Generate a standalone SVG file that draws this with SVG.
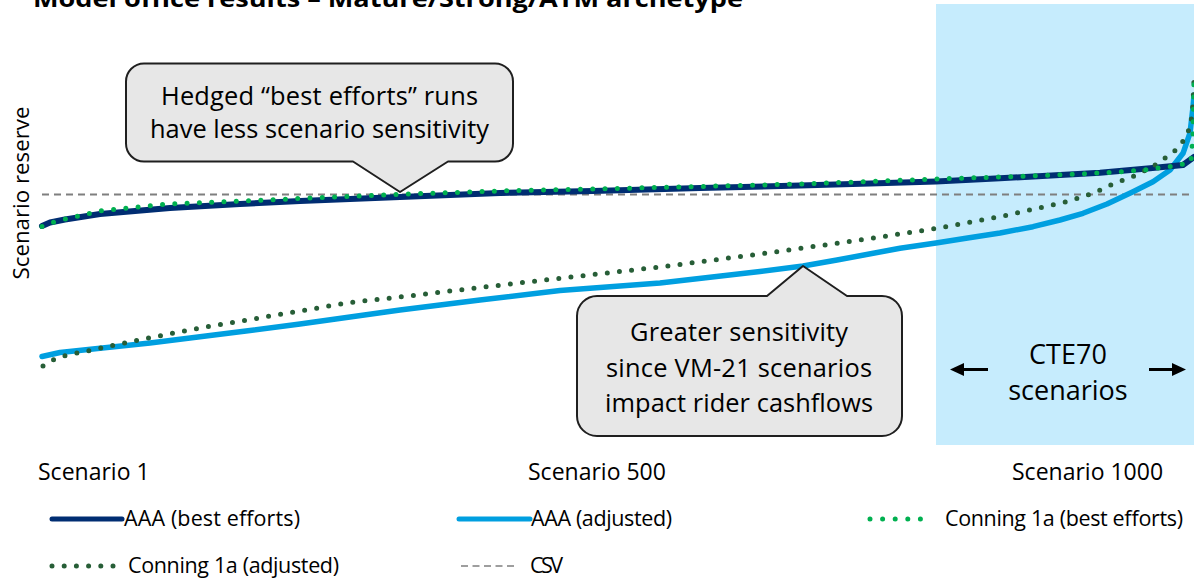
<svg xmlns="http://www.w3.org/2000/svg" width="1194" height="583" viewBox="0 0 1194 583">
<style>
.t{font-family:"Open Sans","Liberation Sans",sans-serif;fill:#000}
.call{fill:#E7E7E7;stroke:#1F1F1F;stroke-width:2;stroke-linejoin:round}
.ct{font-size:25.4px;text-anchor:middle}
.ax{font-size:23px}
.lg{font-size:21.5px}
.navy{fill:none;stroke:#002D72;stroke-width:6;stroke-linejoin:round;stroke-linecap:round}
.lblue{fill:none;stroke:#009FE0;stroke-width:5.5;stroke-linejoin:round;stroke-linecap:round}
.gdot{fill:none;stroke:#00B050;stroke-width:5;stroke-linecap:round;stroke-dasharray:0 12.3}
.ddot{fill:none;stroke:#275E37;stroke-width:5;stroke-linecap:round;stroke-dasharray:0 12.2}
.csv{fill:none;stroke:#7F7F7F;stroke-width:2;stroke-dasharray:7 5}
</style>
<rect width="1194" height="583" fill="#FFFFFF"/>
<rect id="cte-region" x="936" y="4" width="258" height="441" fill="#C6ECFD"/>

<g id="title">
<text class="t" x="33" y="6.5" font-size="24" font-weight="bold" textLength="710" lengthAdjust="spacingAndGlyphs">Model office results – Mature/Strong/ATM archetype</text>
</g>

<g id="y-axis-label">
<text class="t" font-size="22.3" text-anchor="middle" transform="translate(29,193) rotate(-90)">Scenario reserve</text>
</g>

<g id="connectors">
<line class="csv" x1="42" y1="194.5" x2="1194" y2="194.5"/>
<polyline class="lblue" points="42,356.5 60,352.5 100,348.3 150,343 200,336.7 250,330.5 300,324 350,317 400,310 480,300 560,290.5 660,283 760,271.5 803,266 837,260 900,248.3 936,243 966,238.3 1000,233 1033,226.7 1060,220 1083,213.3 1107,204 1133,191.7 1153,181.7 1170,170 1183,153.3 1190,133 1193,107 1194,95"/>
<polyline class="navy" points="42,226 50,222.5 65,219.5 100,214 170,208 240,204 300,201 400,197 500,193 593,191 700,188 800,185.5 870,183.5 936,181.5 1000,178.3 1100,172.7 1150,168.3 1183,165 1194,157"/>
<polyline class="ddot" points="43,366 55,359 66,355.3 90,350.5 113,345.3 150,337.7 200,328 250,319.5 300,311 350,302.5 400,297 480,287.5 560,278.3 660,267 760,254 860,240 936,228.5 1000,216.7 1067,201.7 1093,193.3 1113,184 1137,175 1158,163.3 1178,148.3 1185,138.3 1190,127.3 1192,115 1193,103 1194,80"/>
<polyline class="gdot" points="42,226.5 57,221 100,211 167,204 230,201.5 300,198.5 400,194.3 500,191 593,189 700,186.5 800,184 870,181.5 936,179 1010,176.7 1107,172.7 1143,170 1168,166.7 1180,165 1191,161.7 1193,135 1194,78"/>
</g>

<g id="callout-hedged">
<path class="call" d="M144,63.5 H495 A18,18 0 0 1 513,81.5 V143.5 A18,18 0 0 1 495,161.5 H448 L400,192 L353,161.5 H144 A18,18 0 0 1 126,143.5 V81.5 A18,18 0 0 1 144,63.5 Z"/>
<text class="t ct" x="319.5" y="105" textLength="317">Hedged “best efforts” runs</text>
<text class="t ct" x="319.5" y="138.3" textLength="339">have less scenario sensitivity</text>
</g>

<g id="callout-greater">
<path class="call" d="M597,296 H767 L803,266 L847,296 H882 A20,20 0 0 1 902,316 V416 A20,20 0 0 1 882,436 H597 A20,20 0 0 1 577,416 V316 A20,20 0 0 1 597,296 Z"/>
<text class="t ct" x="739" y="341" textLength="218">Greater sensitivity</text>
<text class="t ct" x="739" y="376.7" textLength="266">since VM-21 scenarios</text>
<text class="t ct" x="739" y="411.7" textLength="268">impact rider cashflows</text>
</g>

<g id="cte70-label">
<text class="t" x="1068" y="363.5" font-size="27" text-anchor="middle">CTE70</text>
<text class="t" x="1068" y="400" font-size="27" text-anchor="middle">scenarios</text>
<line x1="988" y1="369.5" x2="962" y2="369.5" stroke="#000" stroke-width="3"/>
<polygon points="950,369.5 964,363 964,376" fill="#000"/>
<line x1="1149" y1="369.5" x2="1174" y2="369.5" stroke="#000" stroke-width="3"/>
<polygon points="1186,369.5 1172,363 1172,376" fill="#000"/>
</g>

<g id="x-axis-labels">
<text class="t ax" x="38" y="479.5">Scenario 1</text>
<text class="t ax" x="528" y="479.5">Scenario 500</text>
<text class="t ax" x="1012" y="479.5">Scenario 1000</text>
</g>

<g id="legend">
<g id="legend-aaa-best">
<line x1="52" y1="519" x2="122" y2="519" stroke="#002D72" stroke-width="5" stroke-linecap="round"/>
<text class="t lg" x="124" y="526" textLength="176">AAA (best efforts)</text>
</g>
<g id="legend-aaa-adj">
<line x1="459" y1="519" x2="530" y2="519" stroke="#009FE0" stroke-width="5" stroke-linecap="round"/>
<text class="t lg" x="531" y="526" textLength="141">AAA (adjusted)</text>
</g>
<g id="legend-conning-best">
<line x1="870" y1="519" x2="933" y2="519" stroke="#00B050" stroke-width="5" stroke-linecap="round" stroke-dasharray="0 12.6"/>
<text class="t lg" x="945" y="526" textLength="238">Conning 1a (best efforts)</text>
</g>
<g id="legend-conning-adj">
<line x1="52" y1="566" x2="113" y2="566" stroke="#275E37" stroke-width="5" stroke-linecap="round" stroke-dasharray="0 12.2"/>
<text class="t lg" x="128" y="573" textLength="211">Conning 1a (adjusted)</text>
</g>
<g id="legend-csv">
<line x1="461" y1="566" x2="514" y2="566" stroke="#7F7F7F" stroke-width="1.5" stroke-dasharray="7 4.5"/>
<text class="t lg" x="530" y="573" textLength="33">CSV</text>
</g>
</g>
</svg>
